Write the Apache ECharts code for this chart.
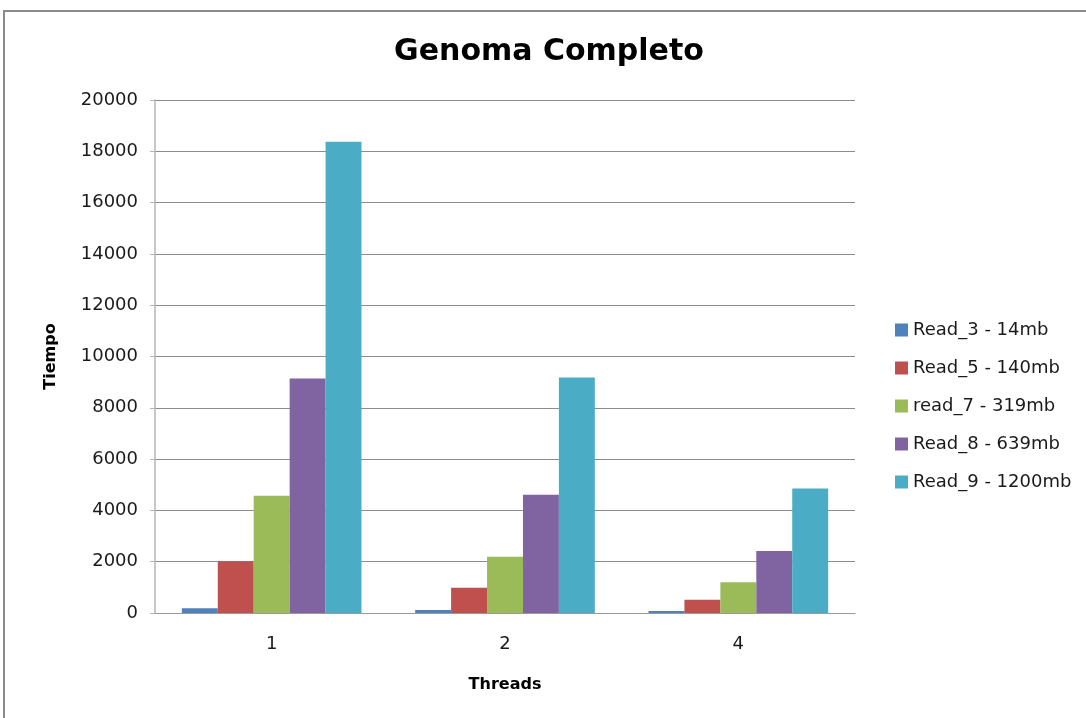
<!DOCTYPE html>
<html>
<head>
<meta charset="utf-8">
<title>Genoma Completo</title>
<script src="https://cdn.jsdelivr.net/npm/echarts@6/dist/echarts.min.js"></script>
<style>
  html, body { margin: 0; padding: 0; background: #ffffff; }
  #chart { width: 1086px; height: 718px; }
</style>
</head>
<body>
<div id="chart"></div>
<script>
// Thread counts on the category axis
const threads = ['1', '2', '4'];

// Series names (input read files and their sizes)
const seriesNames = [
  'Read_3 - 14mb',
  'Read_5 - 140mb',
  'read_7 - 319mb',
  'Read_8 - 639mb',
  'Read_9 - 1200mb'
];

// Run time per thread count, one array per read file
const read3 = [190, 115, 75];
const read5 = [2020, 985, 520];
const read7 = [4570, 2195, 1195];
const read8 = [9140, 4610, 2415];
const read9 = [18370, 9180, 4850];

const seriesValues = [read3, read5, read7, read8, read9];
const palette = ['#4F81BD', '#C0504D', '#9BBB59', '#8064A2', '#4BACC6'];

const FONT = '"DejaVu Sans", "Noto Sans", sans-serif';

const chart = echarts.init(document.getElementById('chart'), null, { renderer: 'canvas' });

chart.setOption({
  backgroundColor: '#ffffff',
  animation: false,
  color: palette,
  graphic: [
    {
      // chart frame
      type: 'rect',
      shape: { x: 4, y: 11, width: 1200, height: 800 },
      style: { fill: 'none', stroke: '#8a8a8a', lineWidth: 2 },
      silent: true
    },
    {
      type: 'text',
      x: 549,
      y: 52,
      style: {
        text: 'Genoma Completo',
        font: 'bold 30px ' + FONT,
        fill: '#000000',
        align: 'center',
        verticalAlign: 'middle'
      }
    }
  ],
  grid: {
    left: 155,
    right: 231,
    top: 100,
    bottom: 105,
    containLabel: false
  },
  legend: {
    orient: 'vertical',
    left: 890,
    top: 315,
    icon: 'rect',
    itemWidth: 13,
    itemHeight: 13,
    itemGap: 18,
    textStyle: {
      fontFamily: FONT,
      fontSize: 18,
      lineHeight: 20,
      color: '#1a1a1a'
    },
    data: seriesNames
  },
  xAxis: {
    type: 'category',
    data: threads,
    name: 'Threads',
    nameLocation: 'middle',
    nameGap: 64,
    nameTextStyle: {
      fontFamily: FONT,
      fontWeight: 'bold',
      fontSize: 16,
      color: '#000000'
    },
    axisLine: { show: true, lineStyle: { color: '#9a9a9a', width: 1 } },
    axisTick: { show: false },
    axisLabel: {
      margin: 22,
      fontFamily: FONT,
      fontSize: 18,
      color: '#1a1a1a'
    },
    splitLine: { show: false }
  },
  yAxis: {
    type: 'value',
    min: 0,
    max: 20000,
    interval: 2000,
    name: 'Tiempo',
    nameLocation: 'middle',
    nameRotate: 90,
    nameGap: 96,
    nameTextStyle: {
      fontFamily: FONT,
      fontWeight: 'bold',
      fontSize: 16,
      color: '#000000'
    },
    axisLine: { show: true, lineStyle: { color: '#b4b4b4', width: 1.5 } },
    axisTick: { show: true, inside: false, length: 5, lineStyle: { color: '#b4b4b4' } },
    axisLabel: {
      margin: 17,
      fontFamily: FONT,
      fontSize: 18,
      color: '#1a1a1a',
      formatter: (v) => String(v)
    },
    splitLine: { show: true, lineStyle: { color: '#8c8c8c', width: 1.2 } }
  },
  series: seriesNames.map((name, i) => ({
    name: name,
    type: 'bar',
    data: seriesValues[i],
    barGap: '0%',
    barCategoryGap: '23%',
    itemStyle: { color: palette[i] }
  }))
});
</script>
</body>
</html>
